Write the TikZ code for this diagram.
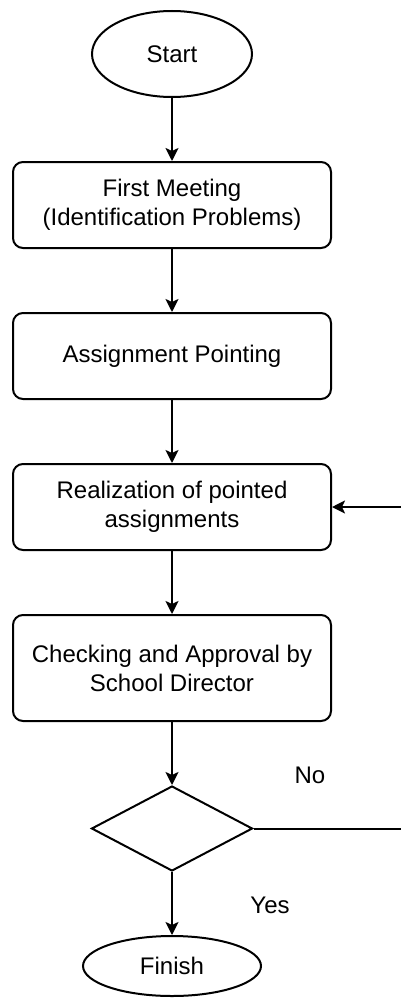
\documentclass[tikz,border=0pt]{standalone}
\usepackage{fontspec}
\setmainfont{Liberation Sans}
\usetikzlibrary{positioning,shapes.geometric,arrows.meta}
\tikzstyle{process}=[rectangle, rounded corners=10pt, draw=black, line width=2pt, text centered, align=center, minimum width=318pt, minimum height=86pt, inner sep=0pt, font=\fontsize{24}{29}\selectfont]
\tikzstyle{terminal}=[ellipse, draw=black, line width=2pt, inner sep=0pt, font=\fontsize{24}{29}\selectfont]
\tikzstyle{decision}=[diamond, draw=black, line width=2pt, inner sep=0pt, minimum width=161pt, minimum height=85pt]

\begin{document}
\begin{tikzpicture}[
        x=1pt, y=-1pt,
        node distance = 63pt,
        line/.style={-{Stealth[length=13pt,width=13pt,inset=3pt]}, line width=2pt},
        answer/.style={font=\fontsize{24}{29}\selectfont},
      ]
      \useasboundingbox (0,0) rectangle (401,998);
      \node (Start) [terminal, minimum width=160pt, minimum height=86pt] at (172,54) {Start};
      \node (Meeting) [process, below=of Start]
            {First Meeting\\(Identification Problems)};
      \node (Pointing) [process, below=of Meeting]
            {Assignment Pointing};
      \node (Realization) [process, below=of Pointing]
            {Realization of pointed\\assignments};
      \node (Checking) [process, minimum height=106pt, below=of Realization]
            {Checking and Approval by\\School Director};
      \node (Decision) [decision, below=of Checking] {};
      \node (Finish) [terminal, minimum width=178pt, minimum height=60pt, below=of Decision] {Finish};
      \node (No) [answer] at (310,775) {No};
      \node (Yes) [answer] at (270,905) {Yes};
      \coordinate (LoopX) at (404,0);
      \draw [line] (Start) -- (Meeting);
      \draw [line] (Meeting) -- (Pointing);
      \draw [line] (Pointing) -- (Realization);
      \draw [line] (Realization) -- (Checking);
      \draw [line] (Checking) -- (Decision);
      \draw [line] (Decision) -- (Finish);
      \draw [line] (Decision.east) -- (Decision.east -| LoopX) |- (Realization.east);
    \end{tikzpicture}
\end{document}
